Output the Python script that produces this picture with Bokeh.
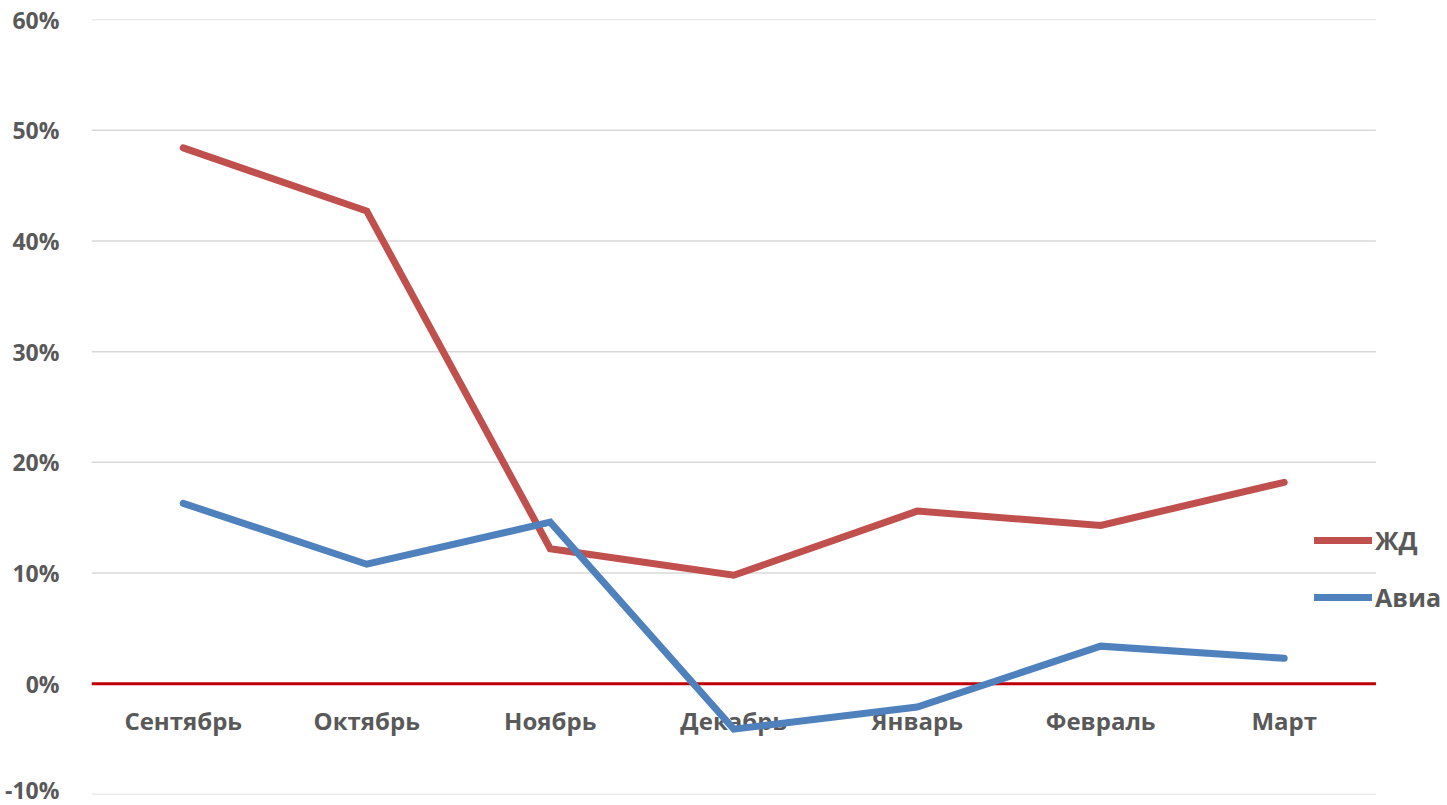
from bokeh.plotting import figure
from bokeh.models import Range1d, PrintfTickFormatter, FixedTicker, Legend, LegendItem, ColumnDataSource
from bokeh.core.properties import value
from bokeh.embed import file_html
from bokeh.resources import INLINE

months = ["Сентябрь", "Октябрь", "Ноябрь", "Декабрь", "Январь", "Февраль", "Март"]
rail = [48.4, 42.7, 12.2, 9.8, 15.6, 14.3, 18.2]
air = [16.3, 10.8, 14.6, -4.1, -2.1, 3.4, 2.3]
series_names = ["ЖД", "Авиа"]
y_ticks = [-10, 0, 10, 20, 30, 40, 50, 60]

FONT = "Open Sans"
GRAY = "#595959"

xs = list(range(len(months)))
x_lo = -0.5
x_hi = len(months) - 0.5

p = figure(width=1447, height=805, x_range=Range1d(x_lo, x_hi + 0.39),
           y_range=Range1d(-10, 60), output_backend="svg", toolbar_location=None,
           min_border_left=91, min_border_right=0, min_border_top=19, min_border_bottom=11)
p.outline_line_color = None
p.background_fill_color = "white"
p.border_fill_color = "white"

p.xaxis.visible = False
p.xgrid.grid_line_color = None
p.ygrid.grid_line_color = None
p.yaxis.ticker = FixedTicker(ticks=y_ticks)
p.yaxis.formatter = PrintfTickFormatter(format="%d%%")
p.yaxis.axis_line_color = None
p.yaxis.major_tick_line_color = None
p.yaxis.minor_tick_line_color = None
p.yaxis.major_label_text_font = FONT
p.yaxis.major_label_text_font_style = "bold"
p.yaxis.major_label_text_font_size = "23px"
p.yaxis.major_label_text_color = GRAY
p.yaxis.major_label_standoff = 26

# gridlines across the category area only
grid_vals = [t for t in y_ticks if t != 0]
p.segment(x0=[x_lo] * len(grid_vals), x1=[x_hi] * len(grid_vals), y0=grid_vals, y1=grid_vals,
          line_color="#d9d9d9", line_width=1.5)
# zero line
p.segment(x0=[x_lo], x1=[x_hi], y0=[0], y1=[0], line_color="#c00000", line_width=3)

lab_src = ColumnDataSource(dict(x=xs, y=[0] * len(months), t=months))
p.text(x="x", y="y", text="t", source=lab_src, y_offset=37, text_align="center",
       text_baseline="middle", text_font=value(FONT), text_font_style="bold",
       text_font_size="24px", text_color=GRAY)

r1 = p.line(xs, rail, line_color="#c0504d", line_width=7, line_join="miter", line_cap="round")
r2 = p.line(xs, air, line_color="#4f81bd", line_width=7, line_join="miter", line_cap="round")

legend = Legend(items=[LegendItem(label=series_names[0], renderers=[r1]),
                       LegendItem(label=series_names[1], renderers=[r2])],
                location=(1223, 180), orientation="vertical")
legend.background_fill_alpha = 0
legend.border_line_color = None
legend.padding = 0
legend.margin = 0
legend.spacing = 23
legend.glyph_width = 58
legend.glyph_height = 30
legend.label_height = 30
legend.label_standoff = 3
legend.label_text_font = FONT
legend.label_text_font_style = "bold"
legend.label_text_font_size = "25px"
legend.label_text_color = GRAY
p.add_layout(legend)

open("out.html", "w").write(file_html(p, INLINE))
